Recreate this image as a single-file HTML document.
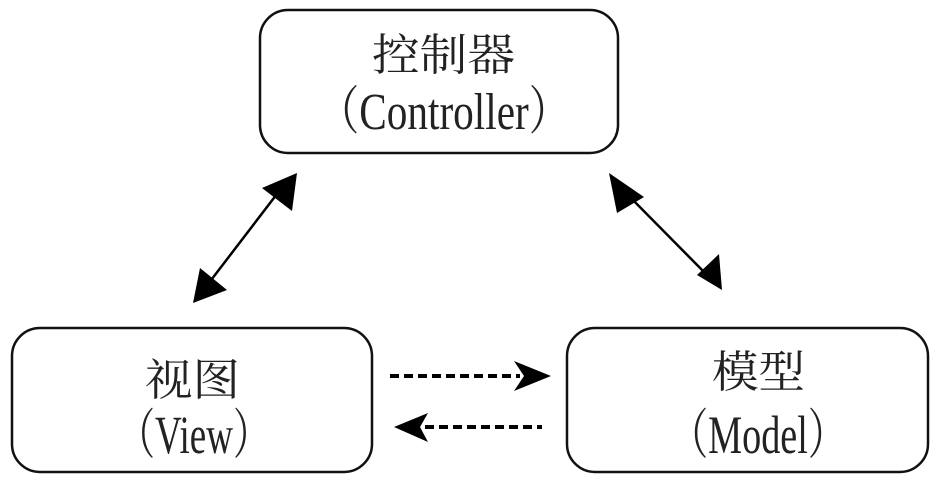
<!DOCTYPE html>
<html><head><meta charset="utf-8"><style>html,body{margin:0;padding:0;background:#fff}svg{display:block}</style></head>
<body>
<svg width="945" height="494" viewBox="0 0 945 494" xmlns="http://www.w3.org/2000/svg">
<g fill="none" stroke="#111" stroke-width="2.5">
<rect x="260" y="10" width="358" height="143" rx="28"/>
<rect x="12" y="328" width="360" height="144" rx="28"/>
<rect x="567" y="328" width="361" height="144" rx="28"/>
</g>
<g stroke="#000" stroke-width="2.5">
<line x1="280" y1="190" x2="205" y2="288"/>
<line x1="625" y1="192" x2="708" y2="276"/>
</g>
<g fill="#000">
<polygon points="297,173 292,211 262,188"/>
<polygon points="193,303 227,290 200,268"/>
<polygon points="609,173 644,197 617,213"/>
<polygon points="722,290 719,254 697,275"/>
<polygon points="551,376 514,361 524,376 514,391"/>
<polygon points="394,427 428,413 420,427 428,442"/>
</g>
<g stroke="#000" stroke-width="4" stroke-dasharray="9,5">
<line x1="390" y1="376" x2="520" y2="376"/>
<line x1="425" y1="427" x2="542" y2="427"/>
</g>
<g font-family="'Liberation Serif','Noto Serif CJK SC',serif" fill="#222">
<text x="372" y="70" font-size="44" textLength="143" lengthAdjust="spacingAndGlyphs">控制器</text>
<text x="318" y="129" font-size="52" textLength="252" lengthAdjust="spacingAndGlyphs">（Controller）</text>
<text x="145" y="395" font-size="44" textLength="95" lengthAdjust="spacingAndGlyphs">视图</text>
<text x="118" y="453" font-size="54" textLength="152" lengthAdjust="spacingAndGlyphs">（View）</text>
<text x="712" y="387" font-size="44" textLength="93" lengthAdjust="spacingAndGlyphs">模型</text>
<text x="670" y="453" font-size="54" textLength="176" lengthAdjust="spacingAndGlyphs">（Model）</text>
</g>
</svg>
</body></html>
